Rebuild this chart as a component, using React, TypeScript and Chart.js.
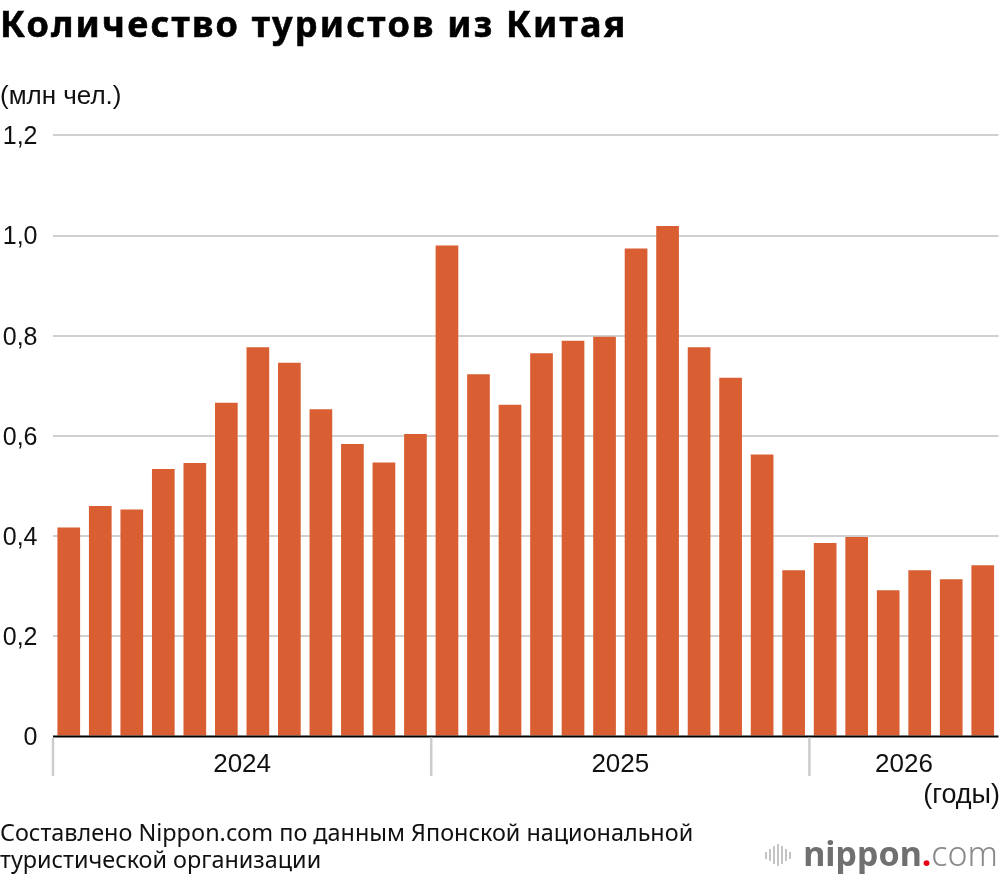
import React, { useEffect, useRef } from 'react';
import { Chart, registerables } from 'chart.js';

Chart.register(...registerables);

const months: string[] = [
  '2024-01', '2024-02', '2024-03', '2024-04', '2024-05', '2024-06',
  '2024-07', '2024-08', '2024-09', '2024-10', '2024-11', '2024-12',
  '2025-01', '2025-02', '2025-03', '2025-04', '2025-05', '2025-06',
  '2025-07', '2025-08', '2025-09', '2025-10', '2025-11', '2025-12',
  '2026-01', '2026-02', '2026-03', '2026-04', '2026-05', '2026-06',
];

const visitors: number[] = [
  0.417, 0.460, 0.453, 0.534, 0.546, 0.666, 0.777, 0.746, 0.653, 0.584, 0.547, 0.604,
  0.980, 0.723, 0.662, 0.765, 0.790, 0.798, 0.974, 1.019, 0.777, 0.716, 0.563, 0.332,
  0.386, 0.398, 0.292, 0.332, 0.314, 0.342,
];

const years: string[] = ['2024', '2025', '2026'];

const yMin = 0;
const yMax = 1.2;
const yStep = 0.2;

const titleText = 'Количество туристов из Китая';
const unitText = '(млн чел.)';
const xUnitText = '(годы)';
const sourceLines: string[] = [
  'Составлено Nippon.com по данным Японской национальной',
  'туристической организации',
];

const BAR_COLOR = '#D95F33';
const GRID_COLOR = '#d0d0d0';
const TICK_FONT = '"Liberation Sans", Arial, sans-serif';

const yearGroupsPlugin = {
  id: 'yearGroups',
  afterDatasetsDraw(chart: any) {
    const { ctx, chartArea, scales } = chart;
    const x = scales.x;
    const y = scales.y;
    const zeroY = y.getPixelForValue(0);
    ctx.save();
    ctx.strokeStyle = '#000';
    ctx.lineWidth = 2;
    ctx.beginPath();
    ctx.moveTo(chartArea.left, zeroY);
    ctx.lineTo(chartArea.right, zeroY);
    ctx.stroke();

    const step = x.getPixelForValue(1) - x.getPixelForValue(0);
    years.forEach((yr) => {
      const idx = months.map((m, i) => (m.startsWith(yr) ? i : -1)).filter((i) => i >= 0);
      if (!idx.length) return;
      const first = idx[0];
      const last = idx[idx.length - 1];
      const left = x.getPixelForValue(first) - step / 2;
      const right = x.getPixelForValue(last) + step / 2;
      ctx.strokeStyle = '#cccccc';
      ctx.lineWidth = 2.5;
      ctx.beginPath();
      ctx.moveTo(left, zeroY + 1);
      ctx.lineTo(left, zeroY + 39.5);
      ctx.stroke();
      ctx.fillStyle = '#111';
      ctx.font = `26px ${TICK_FONT}`;
      ctx.textAlign = 'center';
      ctx.textBaseline = 'middle';
      ctx.fillText(yr, (left + right) / 2, zeroY + 28);
    });
    ctx.restore();
  },
};

function BarChart() {
  const ref = useRef<HTMLCanvasElement | null>(null);
  useEffect(() => {
    if (!ref.current) return;
    const chart = new Chart(ref.current, {
      type: 'bar',
      data: {
        labels: months,
        datasets: [
          {
            data: visitors,
            backgroundColor: BAR_COLOR,
            borderWidth: 0,
            barPercentage: 0.72,
            categoryPercentage: 1,
          },
        ],
      },
      options: {
        responsive: false,
        maintainAspectRatio: false,
        animation: false,
        devicePixelRatio: 1,
        layout: { padding: { top: 135.3, left: 0, right: 1.5, bottom: 143.5 } },
        plugins: {
          legend: { display: false },
          tooltip: { enabled: false },
          title: { display: false },
        },
        scales: {
          x: {
            display: false,
            offset: true,
            grid: { display: false },
          },
          y: {
            min: yMin,
            max: yMax,
            border: { display: false },
            grid: {
              drawTicks: false,
              lineWidth: 2,
              color: (c: any) => (c.tick && c.tick.value === 0 ? 'rgba(0,0,0,0)' : GRID_COLOR),
            },
            ticks: {
              stepSize: yStep,
              padding: 15.5,
              labelOffset: 2,
              color: '#111',
              font: { family: TICK_FONT, size: 25 },
              callback: (v: any) => {
                const n = Number(v);
                if (Math.abs(n) < 1e-9) return '0';
                return n.toFixed(1).replace('.', ',');
              },
            },
            afterFit: (s: any) => {
              s.width = 53;
            },
          },
        },
      },
      plugins: [yearGroupsPlugin],
    });
    return () => chart.destroy();
  }, []);
  return (
    <canvas
      ref={ref}
      width={1000}
      height={880}
      style={{ position: 'absolute', left: 0, top: 0, width: 1000, height: 880 }}
    />
  );
}

function Logo() {
  const bars = [7, 12, 18, 22, 18, 12, 7];
  return (
    <div
      style={{
        position: 'absolute',
        right: 2,
        top: 836,
        height: 40,
        display: 'flex',
        alignItems: 'flex-start',
        whiteSpace: 'nowrap',
      }}
    >
      <div style={{ display: 'flex', alignItems: 'center', height: 40, marginRight: 12, marginTop: -1 }}>
        {bars.map((h, i) => (
          <div key={i} style={{ width: 2, height: h, background: '#c4c4c4', marginRight: i < bars.length - 1 ? 2 : 0 }} />
        ))}
      </div>
      <div style={{ fontFamily: '"Noto Sans", sans-serif', fontSize: 34, lineHeight: 1, color: '#707070' }}>
        <span style={{ fontWeight: 700 }}>nippon</span>
        <span style={{ color: '#e60012', fontWeight: 700 }}>.</span>
        <span style={{ fontWeight: 300, color: '#8a8a8a' }}>com</span>
      </div>
    </div>
  );
}

export default function App() {
  useEffect(() => {
    document.body.style.margin = '0';
  }, []);
  return (
    <div style={{ position: 'relative', width: 1000, height: 880, background: '#fff', overflow: 'hidden' }}>
      <BarChart />
      <div
        style={{
          position: 'absolute',
          left: 0,
          top: 6,
          fontFamily: '"Noto Sans", sans-serif',
          fontWeight: 700,
          fontSize: 36,
          letterSpacing: 2.2,
          lineHeight: 1,
          color: '#000',
          whiteSpace: 'nowrap',
          WebkitTextStroke: '0.6px #000',
        }}
      >
        {titleText}
      </div>
      <div
        style={{
          position: 'absolute',
          left: 0,
          top: 82,
          fontFamily: TICK_FONT,
          fontSize: 26,
          lineHeight: 1,
          color: '#111',
          whiteSpace: 'nowrap',
        }}
      >
        {unitText}
      </div>
      <div
        style={{
          position: 'absolute',
          right: 0,
          top: 781,
          fontFamily: TICK_FONT,
          fontSize: 27,
          lineHeight: 1,
          color: '#111',
          whiteSpace: 'nowrap',
        }}
      >
        {xUnitText}
      </div>
      <div
        style={{
          position: 'absolute',
          left: 0,
          top: 819.4,
          fontFamily: '"Noto Sans", sans-serif',
          fontSize: 23.4,
          lineHeight: '26.3px',
          color: '#111',
          whiteSpace: 'nowrap',
        }}
      >
        {sourceLines.map((l, i) => (
          <div key={i}>{l}</div>
        ))}
      </div>
      <Logo />
    </div>
  );
}
